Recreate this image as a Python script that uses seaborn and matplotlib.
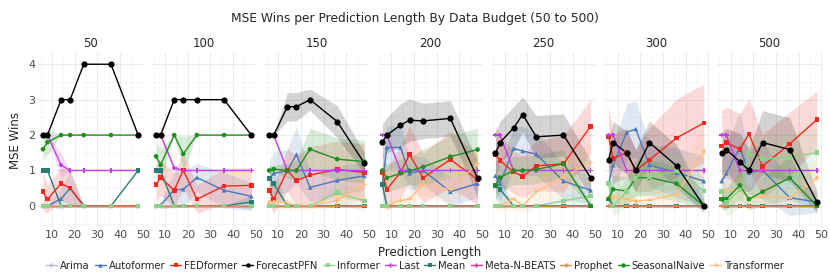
import matplotlib
matplotlib.use("Agg")
import matplotlib.pyplot as plt
from matplotlib.lines import Line2D
import numpy as np
import pandas as pd
import seaborn as sns

budgets = [50, 100, 150, 200, 250, 300, 500]
pred_lens = [6, 8, 14, 18, 24, 36, 48]
models = ["Arima", "Autoformer", "FEDformer", "ForecastPFN", "Informer", "Last",
          "Mean", "Meta-N-BEATS", "Prophet", "SeasonalNaive", "Transformer"]

Z = [0, 0, 0, 0, 0, 0, 0]

# mean wins, one row per budget (50 .. 500)
arima = [Z, Z, Z, Z, Z, Z, Z]
autoformer = [
    [0, 0, 0.2, 0.5, 0, 0, 0],
    [0, 0.02, 0.45, 0.47, 0.8, 0.44, 0.27],
    [0.77, 0.92, 0.99, 1.45, 0.52, 0.72, 0.85],
    [0.63, 1.65, 1.65, 0.92, 1.0, 0.4, 0.63],
    [0.85, 0.63, 1.62, 1.55, 1.46, 0.7, 0.44],
    [0.63, 1.15, 2.08, 2.17, 1.15, 0.94, 0.7],
    [0.7, 0.92, 1.65, 0.94, 1.01, 0.23, 0.11]]
fedformer = [
    [0.4, 0.19, 0.63, 0.5, 0, 0, 0],
    [0.6, 0.8, 0.44, 1.01, 0.19, 0.56, 0.58],
    [0.44, 0.19, 1.01, 0.71, 0.87, 1.03, 0.94],
    [0.94, 0.47, 0.94, 1.45, 0.79, 1.31, 0.75],
    [1.45, 1.28, 0.96, 0.83, 1.13, 1.19, 2.25],
    [1.95, 1.34, 1.5, 1.0, 1.3, 1.92, 2.34],
    [1.69, 1.79, 1.6, 2.03, 1.12, 1.75, 2.44]]
forecastpfn = [
    [2, 2, 3, 3, 4, 4, 2],
    [2, 2, 3, 3, 3, 3, 2],
    [2, 2, 2.8, 2.8, 3.0, 2.38, 1.2],
    [1.8, 2.0, 2.28, 2.42, 2.4, 2.47, 0.78],
    [1.48, 1.79, 2.2, 2.58, 1.95, 2.0, 0.79],
    [1.31, 1.79, 1.5, 1.0, 1.79, 1.13, 0.0],
    [1.48, 1.59, 1.25, 1.0, 1.79, 1.59, 0.11]]
informer = [
    Z, Z,
    [0, 0, 0, 0, 0, 0.37, 0.14],
    Z,
    [0, 0, 0, 0, 0, 0.14, 0.28],
    [0.63, 0, 0.4, 0.77, 0.82, 0.98, 0.42],
    [0.4, 0.1, 0.45, 1.48, 1.32, 1.37, 1.5]]
last = [
    [2, 2, 1.15, 1, 1, 1, 1],
    [2, 2, 1.07, 1, 1, 1, 1],
    [2, 2, 1, 1, 1, 1, 1],
    [2, 2, 1, 1, 1, 1, 1],
    [2, 2, 1, 1, 1, 1, 1],
    [2, 2, 1, 1, 1, 1, 1],
    [2, 2, 1, 1, 1, 1, 1]]
mean = [
    [1, 1, 0, 0, 0, 0, 1],
    [1, 1, 0, 0, 0, 0, 0.11],
    [0.77, 0.63, 0, 0, 0, 0, 0],
    [0.6, 0, 0, 0, 0, 0, 0],
    [0.58, 0.47, 0, 0, 0, 0, 0],
    [0.19, 0, 0, 0, 0, 0, 0],
    [0.19, 0, 0, 0, 0, 0, 0]]
meta_nbeats = [Z, Z, Z, Z, Z, Z, Z]
prophet = [Z, Z, Z, Z, Z, Z, Z]
seasonal = [
    [1.6, 1.8, 2, 2, 2, 2, 2],
    [1.4, 1.16, 2, 1.47, 2, 2, 2],
    [1.0, 1.04, 1.0, 1.0, 1.6, 1.32, 1.25],
    [1.0, 0.79, 0.92, 0.99, 1.1, 1.39, 1.59],
    [0.58, 0.8, 1.0, 1.0, 1.03, 1.19, 0.0],
    [0.2, 0.47, 0.42, 0.79, 0.8, 0.63, 0.0],
    [0.19, 0.19, 0.58, 0.19, 0.4, 0.79, 0.0]]
transformer = [
    Z, Z,
    [0.1, 0.1, 0.1, 0, 0, 0.16, 0.6],
    [0, 0, 0.15, 0.19, 0.6, 0.46, 1.2],
    [0, 0, 0.2, 0, 0.4, 0.82, 1.22],
    [0.23, 0.23, 0.19, 0.13, 0.17, 0.32, 1.53],
    [0.4, 0.44, 0.49, 0.2, 0.28, 0.23, 0.79]]

# half width of the confidence band
autoformer_hw = [
    [0, 0, 0.3, 0.5, 0, 0, 0],
    [0, 0.1, 0.5, 0.5, 0.4, 0.5, 0.4],
    [0.5, 0.6, 0.6, 0.8, 0.4, 0.4, 0.4],
    [0.4, 0.6, 0.6, 0.5, 0.4, 0.4, 0.4],
    [0.5, 0.5, 0.6, 0.7, 0.6, 0.5, 0.4],
    [0.5, 0.6, 0.8, 0.8, 0.6, 0.7, 0.7],
    [0.6, 0.8, 1.0, 0.6, 0.8, 0.5, 0.3]]
fedformer_hw = [
    [0.55, 0.4, 0.45, 0.5, 0, 0, 0],
    [0.5, 0.5, 0.5, 0.5, 0.4, 0.5, 0.5],
    [0.4, 0.4, 0.6, 0.7, 0.8, 0.8, 0.8],
    [0.6, 0.6, 0.7, 0.8, 0.7, 0.8, 0.7],
    [0.8, 0.7, 0.6, 0.6, 0.7, 0.8, 0.75],
    [0.85, 0.7, 0.7, 0.6, 0.9, 1.1, 1.1],
    [1.0, 1.0, 1.0, 1.0, 0.9, 0.9, 0.8]]
forecastpfn_hw = [
    Z, Z,
    [0, 0, 0.4, 0.4, 0.3, 0.45, 0.3],
    [0.5, 0.5, 0.6, 0.6, 0.5, 0.5, 0.5],
    [0.6, 0.6, 0.6, 0.5, 0.6, 0.6, 0.5],
    [0.6, 0.6, 0.6, 0.6, 0.6, 0.6, 0.2],
    [0.6, 0.6, 0.8, 0.6, 0.9, 0.9, 0.3]]
informer_hw = [
    Z, Z,
    [0, 0, 0, 0, 0, 0.3, 0.3],
    Z,
    [0, 0, 0, 0, 0, 0.2, 0.2],
    [0.4, 0.3, 0.4, 0.5, 0.5, 0.5, 0.4],
    [0.4, 0.4, 0.5, 0.6, 0.6, 0.7, 0.7]]
last_hw = [
    [0, 0, 0.35, 0, 0, 0, 0],
    [0, 0, 0.1, 0, 0, 0, 0],
    Z, Z, Z, Z, Z]
mean_hw = [
    Z,
    [0, 0, 0, 0, 0, 0, 0.2],
    [0.4, 0.4, 0, 0, 0, 0, 0],
    [0.5, 0, 0, 0, 0, 0, 0],
    [0.4, 0.4, 0, 0, 0, 0, 0],
    [0.2, 0, 0, 0, 0, 0, 0],
    [0.2, 0, 0, 0, 0, 0, 0]]
seasonal_hw = [
    [0.3, 0.35, 0, 0, 0, 0, 0],
    [0.45, 0.45, 0, 0.5, 0, 0, 0],
    [0.1, 0.1, 0.2, 0.3, 0.6, 0.6, 0.6],
    [0.3, 0.4, 0.4, 0.4, 0.5, 0.6, 0.6],
    [0.4, 0.4, 0.4, 0.4, 0.4, 0.4, 0.0],
    [0.3, 0.4, 0.4, 0.5, 0.5, 0.5, 0.1],
    [0.3, 0.3, 0.4, 0.3, 0.4, 0.6, 0.1]]
transformer_hw = [
    Z, Z,
    [0.1, 0.15, 0.2, 0.1, 0.1, 0.2, 0.4],
    [0.1, 0.1, 0.15, 0.2, 0.3, 0.4, 0.5],
    [0.1, 0.1, 0.3, 0.2, 0.4, 0.5, 0.6],
    [0.2, 0.2, 0.2, 0.2, 0.2, 0.4, 0.8],
    [0.3, 0.3, 0.4, 0.3, 0.3, 0.3, 0.5]]

series = {
    "Arima": (arima, [Z] * 7),
    "Autoformer": (autoformer, autoformer_hw),
    "FEDformer": (fedformer, fedformer_hw),
    "ForecastPFN": (forecastpfn, forecastpfn_hw),
    "Informer": (informer, informer_hw),
    "Last": (last, last_hw),
    "Mean": (mean, mean_hw),
    "Meta-N-BEATS": (meta_nbeats, [Z] * 7),
    "Prophet": (prophet, [Z] * 7),
    "SeasonalNaive": (seasonal, seasonal_hw),
    "Transformer": (transformer, transformer_hw),
}

colors = {"Arima": "#c3b5e3", "Autoformer": "#4a78b8", "FEDformer": "#f0281e",
          "ForecastPFN": "#000000", "Informer": "#8fd08a", "Last": "#c33ce6",
          "Mean": "#2b7d73", "Meta-N-BEATS": "#d4379b", "Prophet": "#d98850",
          "SeasonalNaive": "#1f8f1f", "Transformer": "#ffbf80"}
markers = {"Arima": "P", "Autoformer": "^", "FEDformer": "s", "ForecastPFN": "o",
           "Informer": "s", "Last": "P", "Mean": "s", "Meta-N-BEATS": "P",
           "Prophet": "P", "SeasonalNaive": "o", "Transformer": "P"}

# which series sit on top where they overlap
line_order = ["Arima", "Autoformer", "FEDformer", "Informer", "Last", "Mean",
              "Meta-N-BEATS", "Transformer", "SeasonalNaive", "Prophet", "ForecastPFN"]
point_order = ["Arima", "Autoformer", "FEDformer", "Last", "Mean", "Meta-N-BEATS",
               "Prophet", "Transformer", "SeasonalNaive", "Informer"]

rows = []
for bi, b in enumerate(budgets):
    for m in models:
        vals, hws = series[m]
        for pi, p in enumerate(pred_lens):
            rows.append({"budget": b, "model": m, "pred_len": p,
                         "wins": vals[bi][pi], "hw": hws[bi][pi]})
df = pd.DataFrame(rows)

sns.set_theme(style="whitegrid")
plt.rcParams["font.family"] = ["DejaVu Sans"]

fig, axes = plt.subplots(1, 7, figsize=(8.3, 2.77), dpi=100, sharey=True)
fig.subplots_adjust(left=0.046, right=0.99, top=0.809, bottom=0.18, wspace=0.08)

for ax, b in zip(axes, budgets):
    sub = df[df["budget"] == b]
    for m in models:
        s = sub[sub["model"] == m]
        ax.fill_between(s["pred_len"], s["wins"] - s["hw"], s["wins"] + s["hw"],
                        color=colors[m], alpha=0.17, lw=0)
    sns.lineplot(data=sub, x="pred_len", y="wins", hue="model",
                 hue_order=line_order, palette=colors, errorbar=None,
                 legend=False, linewidth=1.0, ax=ax)
    pts = sub[sub["model"] != "ForecastPFN"].copy()
    pts["order"] = pts["model"].map({m: i for i, m in enumerate(point_order)})
    pts = pts.sort_values("order", kind="stable")
    sns.scatterplot(data=pts, x="pred_len", y="wins", hue="model", style="model",
                    palette=colors, markers=markers, s=11, linewidth=0,
                    legend=False, ax=ax, zorder=3)
    sns.scatterplot(data=sub[sub["model"] == "ForecastPFN"], x="pred_len", y="wins",
                    color="black", marker="o", s=20, linewidth=0, legend=False,
                    ax=ax, zorder=4)
    ax.set_title(str(b), fontsize=8.5, pad=4)
    ax.set_xlim(3.9, 50.1)
    ax.set_ylim(-0.6, 4.32)
    ax.set_xticks([10, 20, 30, 40, 50])
    ax.set_xticks([5, 15, 25, 35, 45], minor=True)
    ax.set_yticks([0, 1, 2, 3, 4])
    ax.set_yticks([-0.5, 0.5, 1.5, 2.5, 3.5], minor=True)
    ax.grid(which="major", color="#ebebeb", lw=0.8)
    ax.grid(which="minor", color="#f4f4f4", lw=0.5)
    ax.tick_params(axis="both", labelsize=8, colors="#4d4d4d", length=0, pad=2)
    for sp in ax.spines.values():
        sp.set_visible(False)
    ax.set_xlabel("")
    ax.set_ylabel("")

axes[0].set_ylabel("MSE Wins", fontsize=8.5)
fig.text(0.518, 0.087, "Prediction Length", ha="center", va="center", fontsize=8.5)
fig.suptitle("MSE Wins per Prediction Length By Data Budget (50 to 500)",
             y=0.935, va="center", fontsize=8.8)

handles = [Line2D([0], [0], color=colors[m], marker=markers[m], markersize=3.2,
                  markeredgewidth=0, lw=1) for m in models]
fig.legend(handles, models, loc="center", ncol=11, bbox_to_anchor=(0.5, 0.04),
           frameon=False, fontsize=7.2, handlelength=1.1, handletextpad=0.3,
           columnspacing=0.5)

fig.savefig("out.png", dpi=100)
